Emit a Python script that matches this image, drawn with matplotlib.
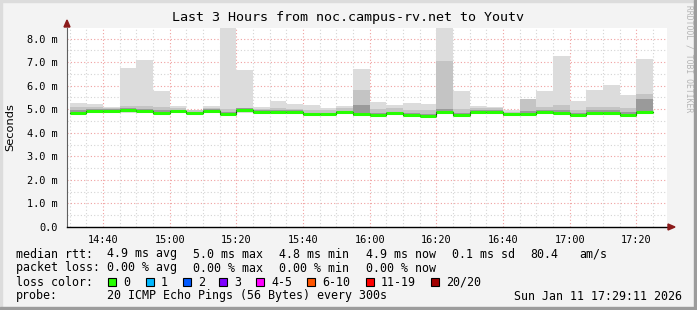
import pandas as pd
import matplotlib.pyplot as plt
from matplotlib.patches import Rectangle, Polygon

W, H = 697, 310
MONO = 'DejaVu Sans Mono'

# 5 minute slots, 14:30 .. 17:20 (start of each step)
slots = pd.date_range("2026-01-11 14:30", "2026-01-11 17:20", freq="5min")

# round trip times in ms
rtt_min = [4.74, 4.84, 4.86, 4.84, 4.82, 4.76, 4.85, 4.78, 4.86, 4.72,
           4.86, 4.82, 4.82, 4.83, 4.72, 4.72, 4.80, 4.70, 4.70, 4.74,
           4.70, 4.64, 4.82, 4.68, 4.83, 4.80, 4.70, 4.72, 4.83, 4.76,
           4.66, 4.78, 4.75, 4.68, 4.82]
rtt_median = [4.83, 4.94, 4.94, 4.97, 4.94, 4.85, 4.92, 4.85, 4.94, 4.80,
              4.98, 4.90, 4.90, 4.90, 4.79, 4.80, 4.88, 4.78, 4.77, 4.82,
              4.76, 4.73, 4.90, 4.76, 4.90, 4.88, 4.78, 4.80, 4.90, 4.85,
              4.76, 4.85, 4.85, 4.76, 4.90]
rtt_dark = [4.95, 5.02, 5.00, 5.04, 5.02, 4.95, 4.98, 4.90, 5.00, 4.90,
            5.04, 4.96, 4.96, 4.96, 4.86, 4.86, 4.94, 5.20, 4.84, 4.90,
            4.84, 4.80, 5.00, 4.86, 4.96, 4.96, 4.84, 4.92, 4.96, 4.95,
            4.84, 4.96, 4.96, 4.88, 5.45]
rtt_upper = [5.08, 5.10, 5.04, 5.12, 5.12, 5.08, 5.04, 4.95, 5.04, 5.00,
             5.05, 5.00, 5.06, 5.02, 4.98, 4.96, 5.04, 5.82, 5.00, 5.06,
             4.98, 4.98, 7.06, 5.00, 5.06, 5.04, 4.90, 5.44, 5.10, 5.18,
             4.98, 5.08, 5.10, 5.04, 5.65]
rtt_max = [5.28, 5.22, 5.11, 6.77, 7.09, 5.79, 5.12, 4.98, 5.12, 8.60,
           6.67, 5.11, 5.36, 5.22, 5.18, 5.05, 5.12, 6.71, 5.32, 5.18,
           5.28, 5.22, 8.60, 5.79, 5.14, 5.08, 4.97, 5.44, 5.79, 7.27,
           5.35, 5.83, 6.03, 5.59, 7.13]

y_ticks = [0, 1, 2, 3, 4, 5, 6, 7, 8]
y_labels = ["0.0", "1.0 m", "2.0 m", "3.0 m", "4.0 m", "5.0 m", "6.0 m", "7.0 m", "8.0 m"]
x_labels = ["14:40", "15:00", "15:20", "15:40", "16:00", "16:20", "16:40", "17:00", "17:20"]

loss_labels = ["0", "1", "2", "3", "4-5", "6-10", "11-19", "20/20"]
loss_colors = ["#26ff00", "#00b8ff", "#0059ff", "#7e00ff", "#ff00ff", "#ff5500", "#ff0000", "#a10000"]


def minutes(t):
    return t.hour * 60 + t.minute + t.second / 60.0


def fx(x):
    return x / W


def fy(y):
    return 1 - y / H


fig = plt.figure(figsize=(W / 100, H / 100), dpi=100, facecolor='#f3f3f3')
ax = fig.add_axes([fx(67), fy(227), (667 - 67) / W, (227 - 28) / H])
ax.set_facecolor('white')

t_end = minutes(pd.Timestamp("2026-01-11 17:29:11"))
t_start = t_end - 180
ax.set_xlim(t_start, t_end)
ax.set_ylim(0, 8.45)

x = [minutes(t) for t in slots]

# grid: grey dotted minor, red dotted major
for v in range(870, 1050, 5):
    major = v % 20 == 0
    ax.axvline(v, color='#f0a0a0' if major else '#d4d4d4', lw=0.8,
               ls=(0, (1, 2)), zorder=0)
for i in range(1, 17):
    v = i * 0.5
    major = i % 2 == 0
    ax.axhline(v, color='#f0a0a0' if major else '#d4d4d4', lw=0.8,
               ls=(0, (1, 2)), zorder=0)

# smoke
low = [m - 0.05 for m in rtt_median]
ax.bar(x, [a - b for a, b in zip(rtt_max, rtt_min)], bottom=rtt_min, width=5,
       align='edge', color='#dcdcdc', lw=0, zorder=1)
ax.bar(x, [a - b for a, b in zip(rtt_upper, low)], bottom=low, width=5,
       align='edge', color='#c4c4c4', lw=0, zorder=2)
ax.bar(x, [a - b for a, b in zip(rtt_dark, low)], bottom=low, width=5,
       align='edge', color='#9a9a9a', lw=0, zorder=3)

# median line
ax.step(x + [x[-1] + 5], rtt_median + [rtt_median[-1]], where='post',
        color='#222222', lw=0.8, zorder=4)
ax.hlines(rtt_median, x, [v + 5 for v in x], colors='#26ff00', lw=2.2, zorder=5)

ax.set_yticks(y_ticks)
ax.set_yticklabels(y_labels, fontfamily=MONO, fontsize=7.4)
ax.set_xticks([minutes(pd.Timestamp("2026-01-11 " + s)) for s in x_labels])
ax.set_xticklabels(x_labels, fontfamily=MONO, fontsize=7.4)
ax.tick_params(axis='both', length=0, pad=7)
ax.tick_params(axis='x', pad=6)

for s in ['top', 'right']:
    ax.spines[s].set_visible(False)
ax.spines['left'].set_color('#606060')
ax.spines['left'].set_linewidth(0.8)
ax.spines['bottom'].set_color('black')
ax.spines['bottom'].set_linewidth(1.0)
ax.set_ylabel("Seconds", fontsize=8.2, labelpad=8)

# axis arrows
fig.patches.append(Polygon([(fx(64), fy(27)), (fx(70), fy(27)), (fx(67), fy(20))],
                           closed=True, color='#8b1a1a', transform=fig.transFigure))
fig.patches.append(Polygon([(fx(668), fy(224)), (fx(668), fy(230)), (fx(675), fy(227))],
                           closed=True, color='#8b1a1a', transform=fig.transFigure))

fig.text(fx(348), fy(17), "Last 3 Hours from noc.campus-rv.net to Youtv",
         fontfamily=MONO, fontsize=9.6, ha='center', va='center')
fig.text(fx(689), fy(5), "RRDTOOL / TOBI OETIKER", fontfamily=MONO, fontsize=5.8,
         color='#b4b4b4', rotation=270, ha='center', va='top')

# legend block
rows = [
    (254, [(16, "median rtt:"), (107, "4.9 ms avg"), (193, "5.0 ms max"),
           (279, "4.8 ms min"), (366, "4.9 ms now"), (452, "0.1 ms sd"),
           (530, "80.4"), (579, "am/s")]),
    (268, [(16, "packet loss:"), (107, "0.00 % avg"), (193, "0.00 % max"),
           (279, "0.00 % min"), (366, "0.00 % now")]),
    (282, [(16, "loss color:")]),
    (296, [(16, "probe:"), (107, "20 ICMP Echo Pings (56 Bytes) every 300s")]),
]
for y, items in rows:
    for xp, txt in items:
        fig.text(fx(xp), fy(y), txt, fontfamily=MONO, fontsize=8.4, va='center')

box_x = [108, 146, 183, 219, 256, 307, 366, 431]
for bx, lab, col in zip(box_x, loss_labels, loss_colors):
    fig.patches.append(Rectangle((fx(bx), fy(286)), 8 / W, 8 / H, facecolor=col,
                                 edgecolor='black', lw=0.8, transform=fig.transFigure))
    fig.text(fx(bx + 15), fy(282), lab, fontfamily=MONO, fontsize=8.4, va='center')

fig.text(fx(682), fy(296), "Sun Jan 11 17:29:11 2026", fontfamily=MONO,
         fontsize=8.4, va='center', ha='right')

# 3d frame edges
fig.patches.append(Rectangle((0, 0), fx(2), 1, color='#dcdcdc', transform=fig.transFigure))
fig.patches.append(Rectangle((0, fy(2)), 1, 2 / H, color='#dcdcdc', transform=fig.transFigure))
fig.patches.append(Rectangle((fx(694), 0), 3 / W, 1, color='#9c9c9c', transform=fig.transFigure))
fig.patches.append(Rectangle((0, 0), 1, 3 / H, color='#9c9c9c', transform=fig.transFigure))

fig.savefig("out.png", dpi=100, facecolor=fig.get_facecolor())
